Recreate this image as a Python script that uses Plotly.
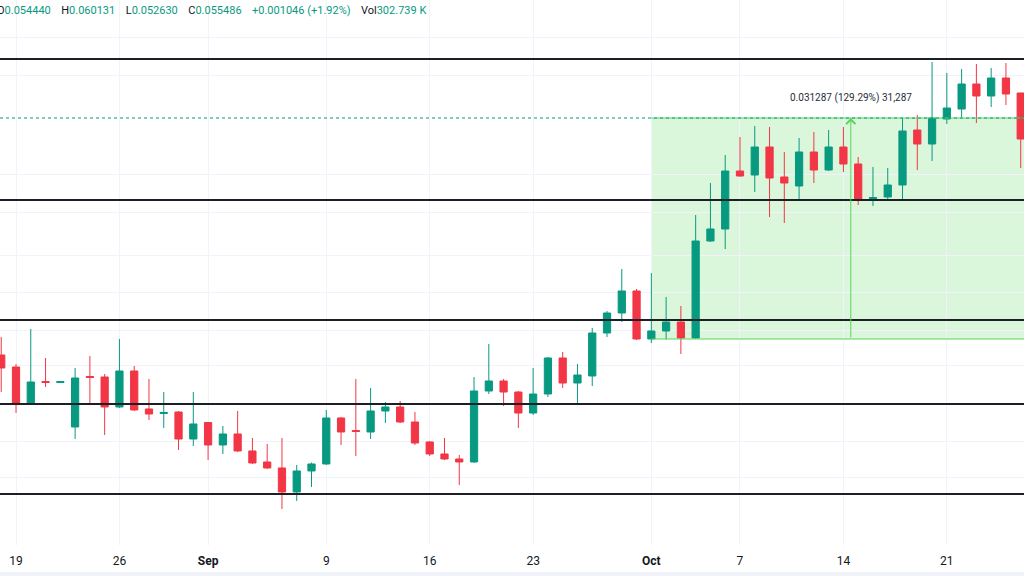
import math
import pandas as pd
import plotly.graph_objects as go

# ---------------- data (daily candles) ----------------
dates = pd.date_range("2024-08-18", "2024-10-26", freq="D")

opens = [0.022788, 0.021784, 0.019029, 0.020629, 0.020552, 0.017390, 0.021021, 0.020981,
         0.018746, 0.021459, 0.018606, 0.018292, 0.018397, 0.016623,
         0.017685, 0.016254, 0.016938, 0.015891, 0.015248, 0.014909, 0.013624, 0.014742,
         0.015134, 0.017988, 0.017163, 0.017066, 0.018466, 0.018746, 0.017719, 0.016437,
         0.015713, 0.015421, 0.015248, 0.019906, 0.020668, 0.019831, 0.018328, 0.019683,
         0.022533, 0.020513, 0.021061, 0.024750, 0.026681, 0.028979,
         0.024199, 0.024937, 0.025794, 0.024290, 0.034963, 0.036575, 0.045476, 0.044797,
         0.049765, 0.044463, 0.042986, 0.048838, 0.045647, 0.049765, 0.046686, 0.041013,
         0.041245, 0.043148, 0.053045, 0.050328, 0.055281, 0.057396, 0.063045, 0.060270,
         0.064483, 0.060950]

highs = [0.024381, 0.022030, 0.025125, 0.022533, 0.020668, 0.021702, 0.022703, 0.021219,
         0.024199, 0.021867, 0.020824, 0.019831, 0.018466, 0.019831,
         0.017719, 0.017456, 0.018466, 0.016686, 0.016314, 0.016686, 0.015078, 0.015219,
         0.018536, 0.018055, 0.020824, 0.020132, 0.019101, 0.019173, 0.018397, 0.016499,
         0.016686, 0.015654, 0.020981, 0.023748, 0.020824, 0.019906, 0.021702, 0.022618,
         0.023046, 0.022030, 0.025220, 0.026882, 0.031474, 0.029197,
         0.031005, 0.028334, 0.027392, 0.038550, 0.043471, 0.048291, 0.051669, 0.053850,
         0.053647, 0.048838, 0.051475, 0.052648, 0.053045, 0.053647, 0.047930, 0.046165,
         0.045991, 0.055400, 0.056117, 0.068475, 0.065704, 0.066699, 0.067963, 0.066950,
         0.068219, 0.061000]

lows = [0.019831, 0.018328, 0.018958, 0.020208, 0.020513, 0.016623, 0.019029, 0.016875,
        0.018676, 0.018466, 0.017853, 0.017325, 0.015951, 0.016193,
        0.015363, 0.015713, 0.015832, 0.015134, 0.014853, 0.012782, 0.013171, 0.013883,
        0.015078, 0.016254, 0.015596, 0.016623, 0.017653, 0.017653, 0.016254, 0.015596,
        0.015363, 0.013987, 0.015191, 0.019683, 0.018817, 0.017325, 0.018191, 0.019463,
        0.020132, 0.019029, 0.020284, 0.024381, 0.025794, 0.024108,
        0.023838, 0.024150, 0.022874, 0.024199, 0.034832, 0.033929, 0.044463, 0.042027,
        0.038262, 0.037409, 0.040936, 0.043471, 0.045476, 0.045305, 0.040024, 0.039876,
        0.040936, 0.040783, 0.045647, 0.047215, 0.054252, 0.055699, 0.054457, 0.057829,
        0.058264, 0.045991]

closes = [0.021702, 0.019029, 0.020591, 0.020552, 0.020629, 0.020902, 0.020942, 0.018746,
          0.021459, 0.018536, 0.018259, 0.018363, 0.016623, 0.017587,
          0.016254, 0.016938, 0.015891, 0.015191, 0.014909, 0.013624, 0.014742, 0.015134,
          0.017988, 0.017066, 0.017098, 0.018466, 0.018746, 0.017719, 0.016375, 0.015713,
          0.015421, 0.015248, 0.019906, 0.020668, 0.019831, 0.018328, 0.019683, 0.022533,
          0.020513, 0.021139, 0.024750, 0.026681, 0.028979, 0.024199,
          0.024937, 0.025794, 0.024290, 0.034963, 0.036575, 0.045476, 0.044631, 0.049765,
          0.044295, 0.043471, 0.048838, 0.045647, 0.049765, 0.046686, 0.040936, 0.041168,
          0.043148, 0.052846, 0.050328, 0.055489, 0.057612, 0.063045, 0.060270, 0.064483,
          0.060721, 0.051282]

# horizontal support / resistance levels
levels = [0.069251, 0.040783, 0.025989, 0.018955, 0.013520]

# faint price grid lines
grid_prices = [0.074937, 0.064971, 0.044966, 0.038986, 0.033173, 0.028762,
               0.024937, 0.021867, 0.018955, 0.016437, 0.014359]

# time axis ticks
tick_dates = ["2024-08-19", "2024-08-26", "2024-09-01", "2024-09-09", "2024-09-16",
              "2024-09-23", "2024-10-01", "2024-10-07", "2024-10-14", "2024-10-21"]
tick_labels = ["19", "26", "<b>Sep</b>", "9", "16", "23", "<b>Oct</b>", "7", "14", "21"]

# price-range measurement
range_base = 0.024199
range_top = 0.055486
range_start = "2024-10-01"
range_end = "2024-10-28"
arrow_date = "2024-10-14 12:00"
range_label = "0.031287 (129.29%) 31,287"
last_close = 0.055486

# header (OHLC legend)
legend_items = [("O", "0.054440"), ("H", "0.060131"), ("L", "0.052630"),
                ("C", "0.055486"), ("", "+0.001046 (+1.92%)"), ("Vol", "302.739 K")]

# visible window
x_view = ["2024-08-17 22:00", "2024-10-26 05:20"]
y_view = [0.011164, 0.086429]

# ---------------- styling ----------------
UP = "#089981"
DOWN = "#F23645"
GRID = "#f0f3fa"
TEXT = "#131722"
LEVEL = "#1c1f26"
RANGE_GREEN = "#57d657"
FONT = "Roboto, 'Liberation Sans', Arial, sans-serif"

fig = go.Figure()
fig.add_trace(go.Candlestick(
    x=dates, open=opens, high=highs, low=lows, close=closes,
    increasing=dict(line=dict(color=UP, width=1), fillcolor=UP),
    decreasing=dict(line=dict(color=DOWN, width=1), fillcolor=DOWN),
    whiskerwidth=0, hoverinfo="skip", showlegend=False,
))

shapes = []
# measurement box
shapes.append(dict(type="rect", xref="x", yref="y", x0=range_start, x1=range_end,
                   y0=range_base, y1=range_top, fillcolor="rgba(76,217,76,0.2)",
                   line=dict(width=0), layer="below"))
for yv in (range_base, range_top):
    shapes.append(dict(type="line", xref="x", yref="y", x0=range_start, x1=range_end,
                       y0=yv, y1=yv, line=dict(color=RANGE_GREEN, width=1), layer="above"))
# last price dotted line
shapes.append(dict(type="line", xref="paper", yref="y", x0=0, x1=1, y0=last_close,
                   y1=last_close, line=dict(color=UP, width=1, dash="dot"), layer="above"))
# level lines
for lv in levels:
    shapes.append(dict(type="line", xref="paper", yref="y", x0=0, x1=1, y0=lv, y1=lv,
                       line=dict(color=LEVEL, width=2), layer="above"))
# bottom border band
shapes.append(dict(type="rect", xref="paper", yref="paper", x0=0, x1=1,
                   y0=-0.0569, y1=-0.0495, fillcolor=GRID, line=dict(width=0)))

header_parts = []
for lab, val in legend_items:
    part = ""
    if lab:
        part += f"<span style='color:{TEXT}'>{lab}</span>"
    part += f"<span style='color:{UP}'>{val}</span>"
    header_parts.append(part)
header = "&nbsp;&nbsp;&nbsp;&#8201;".join(header_parts)

annotations = [
    dict(xref="paper", yref="paper", x=0, y=1, xanchor="left", yanchor="top",
         xshift=-5, yshift=-2, text=header, showarrow=False,
         font=dict(family=FONT, size=11, color=TEXT)),
    dict(xref="x", yref="y", x=arrow_date, y=math.log10(range_top),
         ax=arrow_date, ay=math.log10(range_base), axref="x", ayref="y",
         text="", showarrow=True, arrowhead=4, arrowsize=1.8, arrowwidth=1,
         arrowcolor=RANGE_GREEN, standoff=0, startstandoff=0),
    dict(xref="x", yref="y", x=arrow_date, y=math.log10(range_top), yshift=20,
         text=range_label, showarrow=False,
         font=dict(family=FONT, size=10, color="#2a2e39")),
]

fig.update_layout(
    width=1024, height=576,
    margin=dict(l=0, r=0, t=0, b=31),
    paper_bgcolor="white", plot_bgcolor="white",
    showlegend=False,
    shapes=shapes, annotations=annotations,
    xaxis=dict(type="date", range=x_view, tickvals=tick_dates, ticktext=tick_labels,
               showgrid=True, gridcolor=GRID, gridwidth=1, zeroline=False,
               showline=False, ticks="outside", ticklen=5, tickcolor="rgba(0,0,0,0)",
               tickfont=dict(family=FONT, size=12, color=TEXT),
               rangeslider=dict(visible=False), fixedrange=True),
    yaxis=dict(type="log", range=[math.log10(y_view[0]), math.log10(y_view[1])],
               tickvals=grid_prices, showticklabels=False, showgrid=True,
               gridcolor=GRID, gridwidth=1, zeroline=False, ticks="", fixedrange=True),
)

fig.write_html("out.html",
               config={"displayModeBar": False},
               post_script="document.body.style.margin='0px';"
                           "document.body.style.overflow='hidden';")
